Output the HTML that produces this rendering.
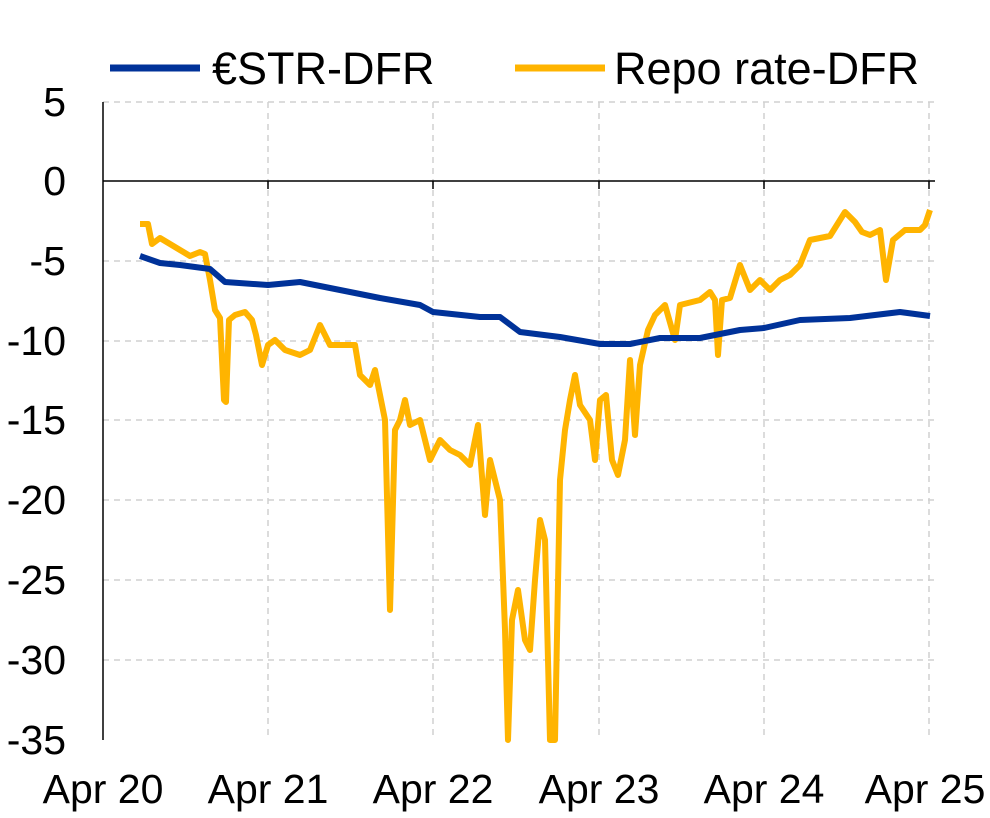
<!DOCTYPE html>
<html><head><meta charset="utf-8"><style>body{margin:0;background:#fff}svg{display:block}</style></head><body>
<svg width="990" height="818" xmlns="http://www.w3.org/2000/svg" font-family="Liberation Sans, Arial, sans-serif">
<g stroke="#d0d0d0" stroke-width="1.5" stroke-dasharray="6,5">
<line x1="103" y1="102" x2="935" y2="102"/><line x1="103" y1="261" x2="935" y2="261"/><line x1="103" y1="341" x2="935" y2="341"/><line x1="103" y1="420" x2="935" y2="420"/><line x1="103" y1="500" x2="935" y2="500"/><line x1="103" y1="580" x2="935" y2="580"/><line x1="103" y1="660" x2="935" y2="660"/>
<line x1="268" y1="102" x2="268" y2="740"/><line x1="433" y1="102" x2="433" y2="740"/><line x1="599" y1="102" x2="599" y2="740"/><line x1="764" y1="102" x2="764" y2="740"/><line x1="929" y1="102" x2="929" y2="740"/>
</g>
<g stroke="#000" stroke-width="1.5"><line x1="103" y1="102" x2="103" y2="740"/><line x1="103" y1="181" x2="935" y2="181"/>
<line x1="268" y1="181" x2="268" y2="189"/><line x1="433" y1="181" x2="433" y2="189"/><line x1="599" y1="181" x2="599" y2="189"/><line x1="764" y1="181" x2="764" y2="189"/><line x1="929" y1="181" x2="929" y2="189"/></g>
<polyline fill="none" stroke="#ffb400" stroke-width="6" stroke-linejoin="round" points="140,224 148,224 152,244 160,238 170,244 180,250 190,256 200,252 205,254 210,280 215,310 220,318 224,400 226,402 229,320 235,315 245,312 252,320 256,335 262,365 268,345 275,340 285,350 300,355 310,350 320,325 330,345 340,345 355,345 360,375 370,385 375,370 380,395 385,420 390,610 395,430 400,420 405,400 410,425 420,420 430,460 440,440 450,450 460,455 470,465 478,425 485,515 490,460 500,500 505,630 508,740 512,620 518,590 525,640 530,650 535,580 540,520 545,540 550,740 555,740 560,480 565,430 570,400 575,375 580,405 590,420 595,460 600,400 606,395 612,460 618,475 625,440 630,360 635,435 640,365 648,330 655,315 665,305 675,340 680,305 700,300 710,292 715,300 718,355 722,300 730,298 740,265 750,290 760,280 770,290 780,280 790,275 800,265 810,240 830,236 845,212 855,222 862,232 870,235 880,230 886,280 893,240 905,230 920,230 925,225 930,210"/>
<polyline fill="none" stroke="#003299" stroke-width="6" stroke-linejoin="round" points="140,256 160,263 180,265 210,269 225,282 268,285 300,282 340,290 380,298 420,305 433,312 480,317 500,317 520,332 560,337 600,344 630,344 660,338 700,338 740,330 764,328 800,320 850,318 900,312 930,316"/>
<line x1="110" y1="68" x2="200" y2="68" stroke="#003299" stroke-width="7"/>
<text x="212" y="84" font-size="45">€STR-DFR</text>
<line x1="515" y1="68" x2="605" y2="68" stroke="#ffb400" stroke-width="7"/>
<text x="614" y="84" font-size="45">Repo rate-DFR</text>
<g font-size="41" text-anchor="end">
<text x="66" y="116">5</text><text x="66" y="195">0</text><text x="66" y="275">-5</text><text x="66" y="355">-10</text><text x="66" y="434">-15</text><text x="66" y="514">-20</text><text x="66" y="594">-25</text><text x="66" y="674">-30</text><text x="66" y="754">-35</text></g>
<g font-size="41" text-anchor="middle">
<text x="103" y="803">Apr 20</text><text x="268" y="803">Apr 21</text><text x="433" y="803">Apr 22</text><text x="599" y="803">Apr 23</text><text x="764" y="803">Apr 24</text><text x="925" y="803">Apr 25</text></g>
</svg>
</body></html>
